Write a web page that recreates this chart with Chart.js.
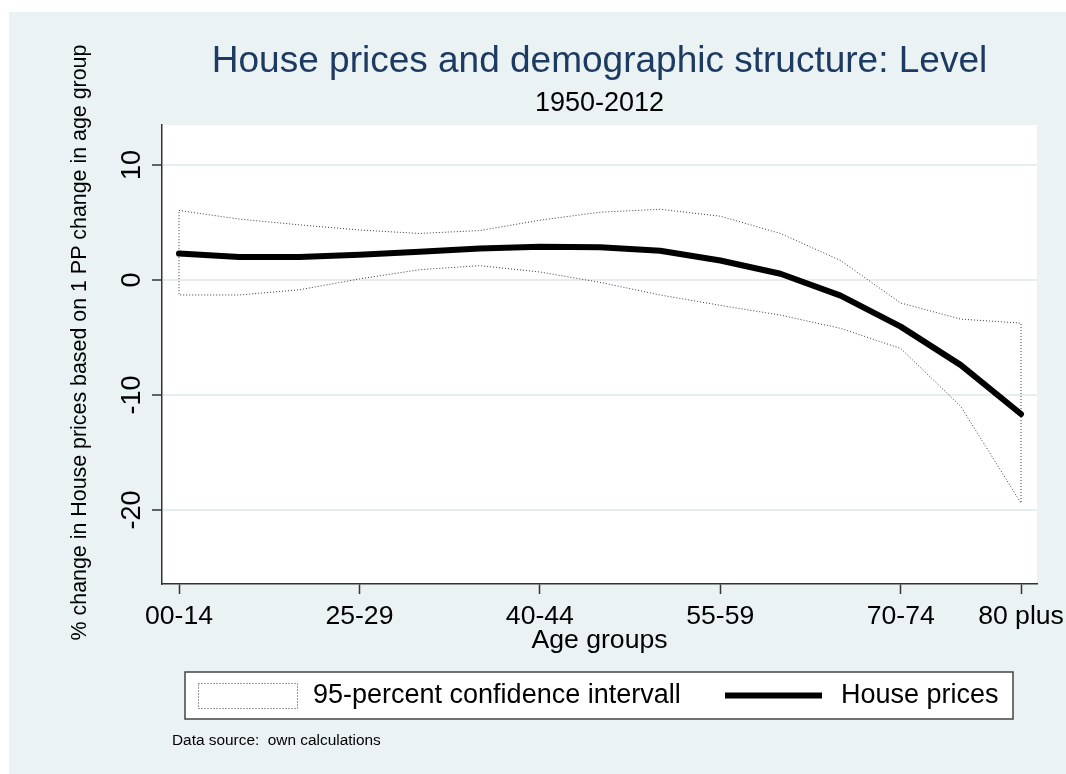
<!DOCTYPE html>
<html>
<head>
<meta charset="utf-8">
<title>House prices and demographic structure</title>
<script src="https://cdn.jsdelivr.net/npm/chart.js@4/dist/chart.umd.min.js"></script>
<style>
  html, body { margin: 0; padding: 0; background: #ffffff; }
  #chart-wrapper { width: 1066px; height: 774px; }
</style>
</head>
<body>
<div id="chart-wrapper"><canvas id="house-price-chart" width="1066" height="774"></canvas></div>
<script>
// age groups on the x axis (only some of them get a label)
const ageGroups = ['00-14', '15-19', '20-24', '25-29', '30-34', '35-39', '40-44', '45-49',
  '50-54', '55-59', '60-64', '65-69', '70-74', '75-79', '80 plus'];
const xTickIndexes = [0, 3, 6, 9, 12, 14];
const yTickValues = [-20, -10, 0, 10];

// % change in house prices for each age group + 95% band
const housePrices = [2.3, 2.0, 2.0, 2.2, 2.45, 2.75, 2.9, 2.85, 2.55, 1.7, 0.55, -1.35, -4.05, -7.4, -11.65];
const ciUpper = [6.05, 5.3, 4.8, 4.35, 4.05, 4.3, 5.2, 5.9, 6.15, 5.55, 4.05, 1.7, -2.0, -3.4, -3.75];
const ciLower = [-1.3, -1.3, -0.85, 0.1, 0.9, 1.25, 0.7, -0.2, -1.3, -2.2, -3.05, -4.2, -5.95, -11.0, -19.4];

const fontFamily = '"Liberation Sans", Arial, Helvetica, sans-serif';
const graphRegionColor = '#eaf2f3';
const gridColor = '#e5edef';
const axisColor = '#333333';
const titleColor = '#1d3a62';
const ctx = document.getElementById('house-price-chart').getContext('2d');

// CI is drawn as an outline: upper band left to right, lower band back, then closed
function buildBandOutline(upper, lower) {
  let outline = [];
  for (let i = 0; i < upper.length; i++) {
    outline.push({ x: i, y: upper[i] });
  }
  for (let i = lower.length - 1; i >= 0; i--) {
    outline.push({ x: i, y: lower[i] });
  }
  outline.push({ x: 0, y: upper[0] });
  return outline;
}

function toPoints(values) {
  return values.map((v, i) => ({ x: i, y: v }));
}

// light graph region + white plot region, like the stata s2color scheme
const backgroundPlugin = {
  id: 'stataBackground',
  beforeDraw(chart) {
    const c = chart.ctx;
    const area = chart.chartArea;
    c.save();
    c.fillStyle = '#ffffff';
    c.fillRect(0, 0, chart.width, chart.height);
    c.fillStyle = graphRegionColor;
    c.fillRect(9, 12, chart.width - 9, chart.height - 12);
    c.fillStyle = '#ffffff';
    c.fillRect(area.left, area.top, area.right - area.left, area.bottom - area.top);
    c.restore();
  }
};

// y axis title, legend box and the note at the bottom
const extrasPlugin = {
  id: 'stataExtras',
  afterDraw(chart) {
    const c = chart.ctx;
    const ciSet = chart.data.datasets[0];
    const lineSet = chart.data.datasets[1];
    c.save();

    // y axis title
    c.save();
    c.translate(80, 342.5);
    c.rotate(-Math.PI / 2);
    c.font = '21.4px ' + fontFamily;
    c.fillStyle = '#000000';
    c.textAlign = 'center';
    c.textBaseline = 'middle';
    c.fillText('% change in House prices based on 1 PP change in age group', 0, 0);
    c.restore();

    // legend box
    c.fillStyle = '#ffffff';
    c.fillRect(185, 672, 828, 47);
    c.strokeStyle = '#444444';
    c.lineWidth = 1.5;
    c.strokeRect(185, 672, 828, 47);

    // CI key
    c.save();
    c.strokeStyle = ciSet.borderColor;
    c.lineWidth = 1;
    c.setLineDash(ciSet.borderDash);
    c.strokeRect(198.5, 683.5, 99, 25);
    c.restore();

    // line key
    c.beginPath();
    c.strokeStyle = lineSet.borderColor;
    c.lineWidth = lineSet.borderWidth;
    c.moveTo(725, 695.5);
    c.lineTo(822, 695.5);
    c.stroke();

    c.font = '27px ' + fontFamily;
    c.fillStyle = '#000000';
    c.textAlign = 'left';
    c.textBaseline = 'middle';
    c.fillText(ciSet.label, 313, 696);
    c.fillText(lineSet.label, 841, 696);

    // note
    c.font = '15.4px ' + fontFamily;
    c.fillText('Data source:  own calculations', 172, 741);
    c.restore();
  }
};

const houseChart = new Chart(ctx, {
  type: 'line',
  data: {
    datasets: [
      {
        label: '95-percent confidence intervall',
        data: buildBandOutline(ciUpper, ciLower),
        borderColor: '#3a3a3a',
        borderWidth: 1,
        borderDash: [1, 2],
        pointRadius: 0,
        fill: false,
        tension: 0,
        order: 2
      },
      {
        label: 'House prices',
        data: toPoints(housePrices),
        borderColor: '#000000',
        borderWidth: 6,
        borderJoinStyle: 'round',
        borderCapStyle: 'round',
        pointRadius: 0,
        fill: false,
        tension: 0,
        order: 1
      }
    ]
  },
  options: {
    responsive: false,
    devicePixelRatio: 1,
    animation: false,
    events: [],
    layout: { padding: { top: 0, right: 29, bottom: 117, left: 0 } },
    plugins: {
      legend: { display: false },
      tooltip: { enabled: false },
      title: {
        display: true,
        text: 'House prices and demographic structure: Level',
        fullSize: false,
        color: titleColor,
        font: { family: fontFamily, size: 37, weight: 'normal' },
        padding: { top: 39.8, bottom: 0 }
      },
      subtitle: {
        display: true,
        text: '1950-2012',
        fullSize: false,
        color: '#000000',
        font: { family: fontFamily, size: 27, weight: 'normal' },
        padding: { top: 3.6, bottom: 4.8 }
      }
    },
    scales: {
      x: {
        type: 'linear',
        min: -0.283,
        max: 14.266,
        afterBuildTicks: function(scale) {
          scale.ticks = xTickIndexes.map(v => ({ value: v }));
        },
        afterFit: function(scale) {
          scale.height = 73;
          scale.paddingLeft = 0;
          scale.paddingRight = 0;
        },
        grid: { drawOnChartArea: false, tickLength: 10, tickColor: axisColor, tickWidth: 1.5 },
        border: { display: true, color: axisColor, width: 1.5 },
        ticks: {
          autoSkip: false,
          maxRotation: 0,
          minRotation: 0,
          padding: 7,
          color: '#000000',
          font: { family: fontFamily, size: 26.6 },
          callback: function(value) { return ageGroups[value]; }
        },
        title: {
          display: true,
          text: 'Age groups',
          color: '#000000',
          font: { family: fontFamily, size: 26.6 },
          padding: 0
        }
      },
      y: {
        type: 'linear',
        min: -26.43,
        max: 13.48,
        afterBuildTicks: function(scale) {
          scale.ticks = yTickValues.map(v => ({ value: v }));
        },
        afterFit: function(scale) {
          scale.width = 162;
          scale.paddingTop = 0;
          scale.paddingBottom = 0;
        },
        grid: { color: gridColor, lineWidth: 2, tickLength: 10, tickColor: axisColor, tickWidth: 1.5 },
        border: { display: true, color: axisColor, width: 1.5 },
        ticks: {
          minRotation: 90,
          maxRotation: 90,
          crossAlign: 'center',
          padding: 0,
          color: '#000000',
          font: { family: fontFamily, size: 27 },
          callback: function(value) { return String(value); }
        }
      }
    }
  },
  plugins: [backgroundPlugin, extrasPlugin]
});
</script>
</body>
</html>
